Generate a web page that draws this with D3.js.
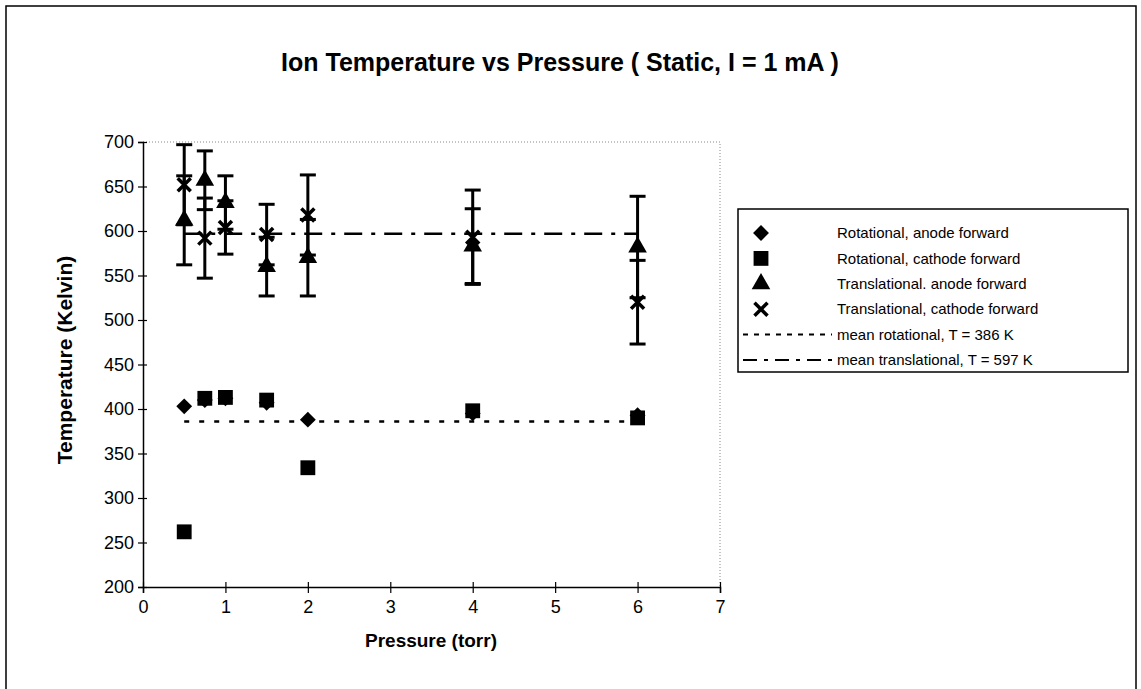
<!DOCTYPE html>
<html>
<head>
<meta charset="utf-8">
<script src="https://cdn.jsdelivr.net/npm/d3@7"></script>
<style>
  body { margin: 0; background: #fff; }
  svg text { font-family: "Liberation Sans", Arial, sans-serif; fill: #000; }
</style>
</head>
<body>
<div id="chart"></div>
<script>
// Data
const pressures = [0.5, 0.75, 1, 1.5, 2, 4, 6];
const rotAnode = [403, 410, 412, 407, 388, 395, 393];
const rotCathode = [262, 412, 413, 410, 334, 398, 390];
const transAnode = [612, 657, 632, 560, 570, 583, 582];
const transAnodeErr = [50, 33, 30, 33, 43, 42, 57];
const transCathode = [652, 592, 604, 596, 618, 593, 520];
const transCathodeErr = [45, 45, 30, 34, 45, 53, 47];
const meanRotational = 386;
const meanTranslational = 597;
const meanRange = [0.5, 6];
const xTicks = [0, 1, 2, 3, 4, 5, 6, 7];
const yTicks = [200, 250, 300, 350, 400, 450, 500, 550, 600, 650, 700];
const legendLabels = [
  "Rotational, anode forward",
  "Rotational, cathode forward",
  "Translational. anode forward",
  "Translational, cathode forward",
  "mean rotational, T = 386 K",
  "mean translational, T = 597 K"
];

const W = 1141, H = 689;
const svg = d3.select("#chart").append("svg")
  .attr("width", W).attr("height", H);

// outer frame
svg.append("rect")
  .attr("x", 6).attr("y", 6).attr("width", 1130).attr("height", 690)
  .attr("fill", "none").attr("stroke", "#000").attr("stroke-width", 1.5);

const x = d3.scaleLinear().domain([0, 7]).range([143, 720]);
const y = d3.scaleLinear().domain([200, 700]).range([587, 142]);

// title
svg.append("text")
  .attr("x", 560).attr("y", 71)
  .attr("text-anchor", "middle")
  .style("font-size", "25px").style("font-weight", "bold")
  .text("Ion Temperature vs Pressure ( Static, I = 1 mA )");

// dotted plot frame (top and right)
svg.append("path")
  .attr("d", `M${x(0)},${y(700)}H${x(7)}V${y(200)}`)
  .attr("fill", "none").attr("stroke", "#888").attr("stroke-width", 1)
  .attr("stroke-dasharray", "1,2");

// axes
const xAxis = svg.append("g")
  .attr("transform", `translate(0,${y(200)})`)
  .call(d3.axisBottom(x).tickValues(xTicks).tickSize(6).tickFormat(d3.format("d")));
const yAxis = svg.append("g")
  .attr("transform", `translate(${x(0)},0)`)
  .call(d3.axisLeft(y).tickValues(yTicks).tickSize(5).tickFormat(d3.format("d")));

[xAxis, yAxis].forEach(g => {
  g.select(".domain").attr("stroke", "#000").attr("stroke-width", 1.5);
  g.selectAll(".tick line").attr("stroke", "#000").attr("stroke-width", 1.2);
  g.selectAll(".tick text")
    .style("font-size", "18px")
    .style("font-family", "'Liberation Sans', Arial, sans-serif");
});
// ticks cross the axis line
xAxis.selectAll(".tick line").attr("y1", -5).attr("y2", 6);
xAxis.selectAll(".tick text").attr("y", 13);
yAxis.selectAll(".tick line").attr("x1", 4).attr("x2", -5);
yAxis.selectAll(".tick text").attr("x", -9);

// axis titles
svg.append("text")
  .attr("x", 431).attr("y", 647)
  .attr("text-anchor", "middle")
  .style("font-size", "19px").style("font-weight", "bold")
  .text("Pressure (torr)");
svg.append("text")
  .attr("transform", `translate(72,360) rotate(-90)`)
  .attr("text-anchor", "middle")
  .style("font-size", "21px").style("font-weight", "bold")
  .text("Temperature (Kelvin)");

// mean lines
const rotDash = "5,10";
const transDash = "18,9,4,9";
svg.append("line")
  .attr("x1", x(meanRange[0])).attr("x2", x(meanRange[1]))
  .attr("y1", y(meanRotational)).attr("y2", y(meanRotational))
  .attr("stroke", "#000").attr("stroke-width", 2.5).attr("stroke-dasharray", rotDash);
svg.append("line")
  .attr("x1", x(meanRange[0])).attr("x2", x(meanRange[1]))
  .attr("y1", y(meanTranslational)).attr("y2", y(meanTranslational))
  .attr("stroke", "#000").attr("stroke-width", 2.5).attr("stroke-dasharray", transDash);

// error bars
function errorBars(vals, errs) {
  const g = svg.append("g").attr("stroke", "#000").attr("stroke-width", 3);
  pressures.forEach((p, i) => {
    const cx = x(p), top = y(vals[i] + errs[i]), bot = y(vals[i] - errs[i]);
    g.append("line").attr("x1", cx).attr("x2", cx).attr("y1", top).attr("y2", bot);
    g.append("line").attr("x1", cx - 8).attr("x2", cx + 8).attr("y1", top).attr("y2", top);
    g.append("line").attr("x1", cx - 8).attr("x2", cx + 8).attr("y1", bot).attr("y2", bot);
  });
}
errorBars(transAnode, transAnodeErr);
errorBars(transCathode, transCathodeErr);

// markers
const diamond = d3.symbol().type(d3.symbolDiamond2).size(160);
const square = d3.symbol().type(d3.symbolSquare).size(220);
const triangle = d3.symbol().type(d3.symbolTriangle).size(150);

function drawMarker(g, kind, cx, cy) {
  if (kind === "x") {
    const s = 6.5;
    g.append("path")
      .attr("d", `M${cx - s},${cy - s}L${cx + s},${cy + s}M${cx - s},${cy + s}L${cx + s},${cy - s}`)
      .attr("stroke", "#000").attr("stroke-width", 3.5).attr("fill", "none");
  } else {
    const gen = kind === "diamond" ? diamond : kind === "square" ? square : triangle;
    g.append("path")
      .attr("d", gen())
      .attr("transform", `translate(${cx},${cy})`)
      .attr("fill", "#000");
  }
}

const series = [
  { vals: rotAnode, kind: "diamond" },
  { vals: rotCathode, kind: "square" },
  { vals: transAnode, kind: "triangle" },
  { vals: transCathode, kind: "x" }
];
const markG = svg.append("g");
series.forEach(s => {
  pressures.forEach((p, i) => drawMarker(markG, s.kind, x(p), y(s.vals[i])));
});

// legend
const legend = svg.append("g");
legend.append("rect")
  .attr("x", 738).attr("y", 209).attr("width", 390).attr("height", 163)
  .attr("fill", "#fff").attr("stroke", "#000").attr("stroke-width", 1.5);
const rowY = i => 233 + i * 25.4;
legendLabels.forEach((label, i) => {
  const ly = rowY(i);
  if (i < 4) {
    drawMarker(legend, series[i].kind, 761, ly);
  } else {
    legend.append("line")
      .attr("x1", 743).attr("x2", 832).attr("y1", ly).attr("y2", ly)
      .attr("stroke", "#000").attr("stroke-width", 2)
      .attr("stroke-dasharray", i === 4 ? "5,6" : "14,7,4,7");
  }
  legend.append("text")
    .attr("x", 837).attr("y", ly).attr("dy", "0.35em")
    .style("font-size", "15px")
    .text(label);
});
</script>
</body>
</html>
